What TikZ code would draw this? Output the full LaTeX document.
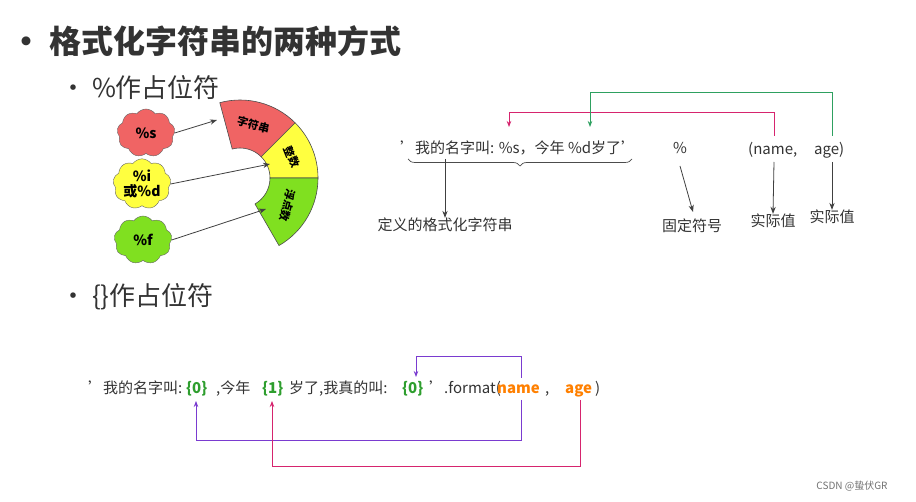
\documentclass[tikz,border=0pt]{standalone}
\usepackage{fontspec}
\setmainfont{Noto Sans CJK SC}
\usetikzlibrary{shapes.symbols,decorations.pathreplacing,arrows.meta,calc}
\definecolor{cred}{HTML}{F06464}
\definecolor{cyel}{HTML}{FFFF40}
\definecolor{cgrn}{HTML}{80E020}
\definecolor{tgrn}{HTML}{2E9E2E}
\definecolor{torg}{HTML}{FF8000}
\definecolor{lmag}{HTML}{D6246E}
\definecolor{lgrn}{HTML}{2EA060}
\definecolor{lpur}{HTML}{7A3BD0}
\newcommand{\sq}{\symbol{39}}
\tikzset{
  t/.style={inner sep=0pt,anchor=base west,text=black!80},
  cl/.style={cloud,cloud puffs=9,cloud puff arc=110,draw=black!60,aspect=1.2,minimum width=58pt,minimum height=48pt,font=\fontsize{14}{15}\selectfont\bfseries,align=center,inner sep=0pt},
  ar/.style={-{Stealth[length=7pt]},draw=black!75,line width=0.8pt},
  seg/.style={draw=black!70,line width=0.6pt},
  sm/.style={font=\fontsize{15}{17}\selectfont},
  al/.style={font=\fontsize{11}{12}\selectfont\bfseries,inner sep=0pt},
}
\begin{document}
\begin{tikzpicture}[x=1pt,y=-1pt]
\useasboundingbox[fill=white] (0,0) rectangle (916,502);
% headings
\node[t,font=\fontsize{32}{34}\selectfont\bfseries] (title) at (10,54) {• 格式化字符串的两种方式};
\node[t,font=\fontsize{26}{28}\selectfont] (h1) at (60,98) {• \%作占位符};
\node[t,font=\fontsize{26}{28}\selectfont] (h2) at (60,306) {• \{\}作占位符};
% clouds
\node[cl,fill=cred] (cs) at (146,133) {\%s};
\node[cl,fill=cyel] (ci) at (142,184) {\%i\\或\%d};
\node[cl,fill=cgrn] (cf) at (143,240) {\%f};
% arc
\coordinate (c) at (240,178);
\filldraw[seg,fill=cred] (c) ++(-105:78) arc[start angle=-105,end angle=-45,radius=78] -- ($(c)+(-45:30)$) arc[start angle=-45,end angle=-105,radius=30] -- cycle;
\filldraw[seg,fill=cyel] (c) ++(-45:78) arc[start angle=-45,end angle=0,radius=78] -- ($(c)+(0:30)$) arc[start angle=0,end angle=-45,radius=30] -- cycle;
\filldraw[seg,fill=cgrn] (c) ++(0:78) arc[start angle=0,end angle=60,radius=78] -- ($(c)+(60:30)$) arc[start angle=60,end angle=0,radius=30] -- cycle;
\node[al,rotate=-15] (a1) at ($(c)+(-76:55)$) {字符串};
\node[al,rotate=-68] (a2) at ($(c)+(-22:56)$) {整数};
\node[al,rotate=-105] (a3) at ($(c)+(30:55)$) {浮点数};
\draw[ar] (cs.east) -- (217,120);
\draw[ar] (ci.east) -- (270,164);
\draw[ar] (cf.east) -- (266,209);
% right diagram
\node[t,sm] (fmt) at (400,154) {\sq 我的名字叫: \%s，今年 \%d岁了\sq};
\coordinate (ps) at (509,127);
\coordinate (pd) at (590,127);
\draw[decorate,decoration={brace,mirror,amplitude=7pt},draw=black!70,line width=0.7pt] (408,159) -- (632,159);
\node[sm,inner sep=0pt,text=black!80] (def) at (445,225) {定义的格式化字符串};
\draw[ar] (445,159) -- (def.north);
\node[sm,inner sep=0pt,text=black!80] (pct) at (680,148) {\%};
\node[sm,inner sep=0pt,text=black!80] (fix) at (692,226) {固定符号};
\draw[ar] (680,166) -- (693,212);
\node[t,sm] (nm) at (748,155) {(name,};
\node[t,sm] (ag) at (814,155) {age)};
\node[sm,inner sep=0pt,text=black!80] (v1) at (773,221) {实际值};
\node[sm,inner sep=0pt,text=black!80] (v2) at (832,217) {实际值};
\draw[ar] (774,162) -- (v1.north);
\draw[ar] (832,162) -- (v2.north);
\draw[lmag,line width=0.8pt,-{Stealth[length=6pt]}] (774,136) -- (774,112) -- (509,112) -- (ps);
\draw[lgrn,line width=0.8pt,-{Stealth[length=6pt]}] (832,136) -- (832,92) -- (590,92) -- (pd);
% bottom
\tikzset{b/.style={t,font=\fontsize{15}{17}\selectfont}, g/.style={t,font=\fontsize{15}{17}\selectfont\bfseries,text=tgrn}, o/.style={t,font=\fontsize{15}{17}\selectfont\bfseries,text=torg}}
\node[b] (b1) at (88,394) {\sq 我的名字叫:};
\node[g] (z0) at (186,394) {\{0\}};
\node[b] (b2) at (216,394) {,今年};
\node[g] (z1) at (262,394) {\{1\}};
\node[b] (b3) at (289,394) {岁了,我真的叫:};
\node[g] (z2) at (402,394) {\{0\}};
\node[b] (b4) at (429,394) {\sq.format(};
\node[o] (n) at (497,394) {name};
\node[b] (b5) at (545,394) {,};
\node[o] (g) at (565,394) {age};
\node[b] (b6) at (595,394) {)};
\draw[lpur,line width=0.8pt,-{Stealth[length=6pt]}] (521,400) -- (521,440) -- (196,440) -- (196,401);
\draw[lmag,line width=0.8pt,-{Stealth[length=6pt]}] (580,400) -- (580,466) -- (272,466) -- (272,401);
\draw[lpur,line width=0.8pt,-{Stealth[length=6pt]}] (521,378) -- (521,356) -- (416,356) -- (416,377);
\node[inner sep=0pt,font=\fontsize{10}{11}\selectfont,text=black!55] (wm) at (852,486) {CSDN @蛰伏GR};
\end{tikzpicture}
\end{document}
